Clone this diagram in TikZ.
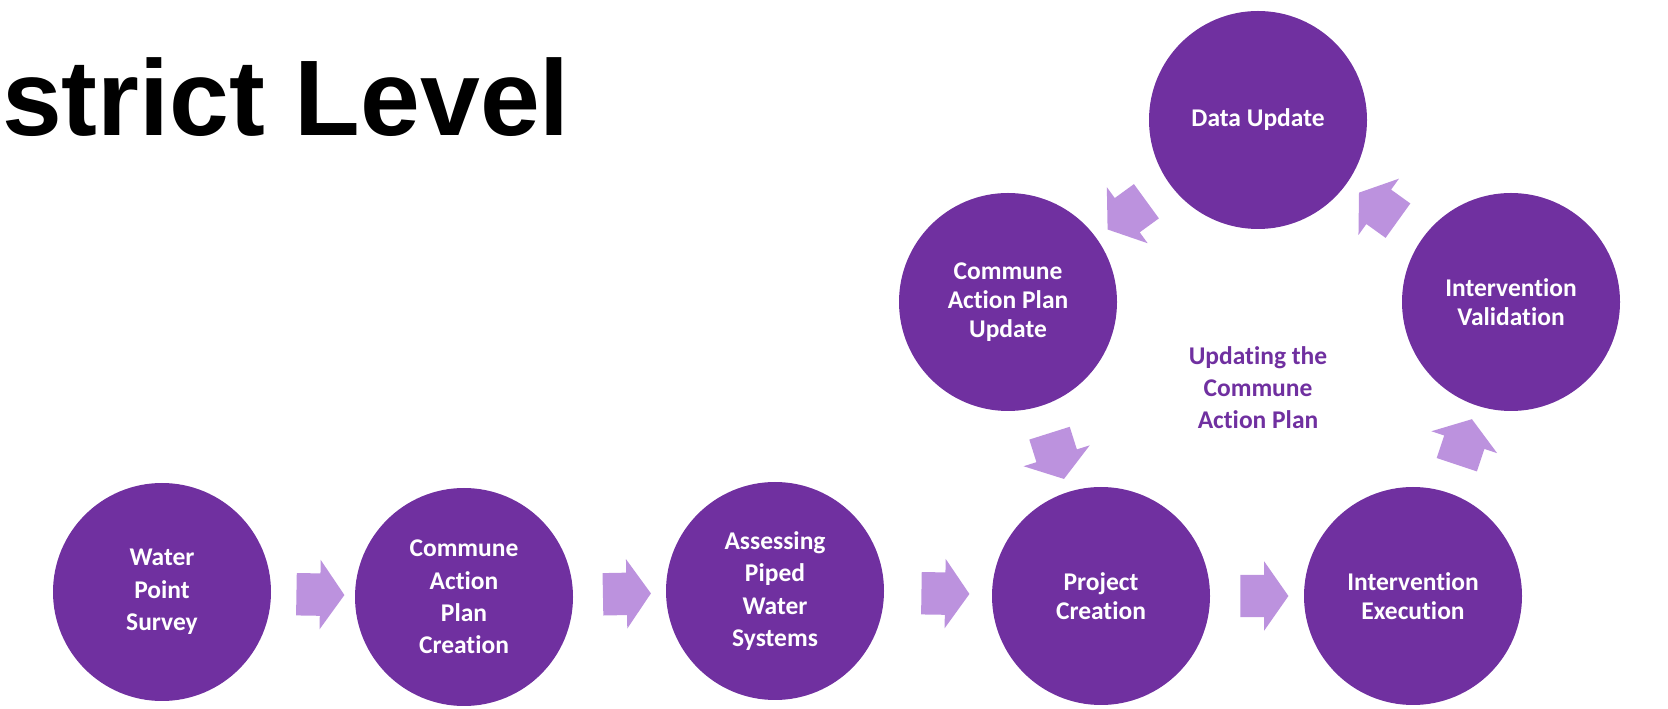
\documentclass[tikz,border=0pt]{standalone}
\usepackage{fontspec}
\setmainfont{Carlito}[Ligatures=NoCommon]
\newfontfamily\headfont{Liberation Sans}
\usepackage{xcolor}
\definecolor{deepPurple}{HTML}{7030A0}
\definecolor{softLilac}{HTML}{BC92DE}
\usepackage{tikz}
\usetikzlibrary{
    shapes.arrows,
    positioning,
    calc
}
\tikzset{
    % Base style for the purple step circles
    stage/.style={
        circle,
        fill=deepPurple,
        text=white,
        minimum size=218pt,
        inner sep=0pt,
        align=center,
        font=\bfseries\fontsize{25.5}{32.3}\selectfont,
    },
    % Circles of the update loop - a bit tighter line spacing
    loop stage/.style={
        stage,
        font=\bfseries\fontsize{25.5}{29.2}\selectfont,
    },
    % Block arrow placed halfway between two circles
    flow/.style={
        single arrow,
        fill=softLilac,
        minimum height=48pt,
        inner xsep=0pt,
        inner ysep=21pt,
        single arrow head extend=13.5pt,
        single arrow tip angle=110,
        sloped,
        allow upside down,
    },
}

\begin{document}
\begin{tikzpicture}[x=1pt, y=1pt]
    \useasboundingbox (0,0) rectangle (1668,709);

    \node (title) [anchor=base west, inner sep=0pt,
        font=\headfont\bfseries\fontsize{107.5}{110}\selectfont] at (2,573) {strict Level};

    % Bottom row
    \node (survey) [stage] at (162,117) {Water\\Point\\Survey};
    \node (cap_create) [stage] at (464,112) {Commune\\Action\\Plan\\Creation};
    \node (assess) [stage] at (775,118) {Assessing\\Piped\\Water\\Systems};
    \node (project) [loop stage] at (1101,113) {Project\\Creation};
    \node (execution) [loop stage] at (1413,113) {Intervention\\Execution};

    % Update loop
    \node (validation) [loop stage] at (1511,407) {Intervention\\Validation};
    \node (data_update) [loop stage] at (1258,589) {Data Update};
    \node (cap_update) [loop stage] at (1008,407) {Commune\\Action Plan\\Update};

    \node (loop_label) [text=deepPurple, align=center,
        font=\bfseries\fontsize{25.5}{32.1}\selectfont] at (1258,321)
        {Updating the\\Commune\\Action Plan};

    \path (survey) -- node [flow] {} (cap_create);
    \path (cap_create) -- node [flow] {} (assess);
    \path (assess) -- node [flow] {} (project);
    \path (project) -- node [flow] {} (execution);
    \path (execution) -- node [flow] {} (validation);
    \path (validation) -- node [flow] {} (data_update);
    \path (data_update) -- node [flow] {} (cap_update);
    \path (cap_update) -- node [flow] {} (project);
\end{tikzpicture}
\end{document}
